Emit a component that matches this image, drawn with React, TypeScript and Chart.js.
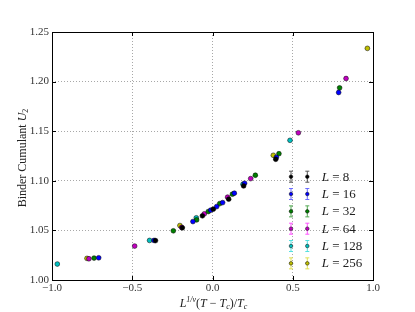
import React, { useEffect, useRef } from "react";
import { Chart, registerables } from "chart.js";

Chart.register(...registerables);

const FONT = '"Liberation Serif", "DejaVu Serif", serif';

// Series data
const xL8 = [-0.355, -0.188, -0.063, 0.005, 0.101, 0.194, 0.394];
const yL8 = [1.0397, 1.0526, 1.0647, 1.0714, 1.0815, 1.0948, 1.1217];
const xL16 = [-0.709, -0.364, -0.122, -0.011, 0.026, 0.063, 0.136, 0.2, 0.398, 0.786];
const yL16 = [1.0224, 1.0399, 1.0589, 1.0704, 1.074, 1.078, 1.0875, 1.0975, 1.1237, 1.189];
const xL32 = [-0.738, -0.244, -0.099, -0.026, 0.045, 0.124, 0.267, 0.414, 0.792];
const yL32 = [1.0221, 1.0496, 1.0606, 1.069, 1.077, 1.0865, 1.1056, 1.1273, 1.1937];
const xL64 = [-0.77, -0.485, -0.192, -0.051, 0.094, 0.238, 0.535, 0.832];
const yL64 = [1.0214, 1.0342, 1.053, 1.0667, 1.0835, 1.1022, 1.1484, 1.2031];
const xL128 = [-0.967, -0.392, -0.101, 0.19, 0.483];
const yL128 = [1.0161, 1.0399, 1.0627, 1.0965, 1.1408];
const xL256 = [-0.782, -0.203, 0.379, 0.965];
const yL256 = [1.0218, 1.0549, 1.1257, 1.2335];

const seriesLabels = ["8", "16", "32", "64", "128", "256"];
const seriesX = [xL8, xL16, xL32, xL64, xL128, xL256];
const seriesY = [yL8, yL16, yL32, yL64, yL128, yL256];
const seriesColors = ["#000000", "#0000ff", "#008000", "#bf00bf", "#00bfbf", "#bfbf00"];
const barColors = ["#555555", "#6b6bff", "#55aa55", "#ff55ff", "#55e0e0", "#e0e055"];

const xTicks = [-1.0, -0.5, 0.0, 0.5, 1.0];
const yTicks = [1.0, 1.05, 1.1, 1.15, 1.2, 1.25];

type Run = { t: string; size: number; italic?: boolean; dy?: number };

function drawRuns(ctx: CanvasRenderingContext2D, runs: Run[], cx: number, cy: number) {
  const fontOf = (r: Run) => `${r.italic ? "italic " : ""}${r.size}px ${FONT}`;
  let total = 0;
  const widths = runs.map((r) => {
    ctx.font = fontOf(r);
    const w = ctx.measureText(r.t).width;
    total += w;
    return w;
  });
  let x = cx - total / 2;
  ctx.textBaseline = "alphabetic";
  ctx.textAlign = "left";
  runs.forEach((r, i) => {
    ctx.font = fontOf(r);
    ctx.fillText(r.t, x, cy + (r.dy || 0));
    x += widths[i];
  });
}

const decorPlugin = {
  id: "decor",
  afterDraw(chart: any) {
    const ctx: CanvasRenderingContext2D = chart.ctx;
    const { left, right, top, bottom } = chart.chartArea;
    const xs = chart.scales.x;
    const ys = chart.scales.y;
    ctx.save();
    // Box
    ctx.strokeStyle = "#000";
    ctx.lineWidth = 1;
    ctx.strokeRect(Math.round(left) + 0.5, Math.round(top) + 0.5, Math.round(right - left), Math.round(bottom - top));
    // Inner ticks
    ctx.lineWidth = 1;
    ctx.beginPath();
    xTicks.forEach((v) => {
      const px = Math.round(xs.getPixelForValue(v)) + 0.5;
      ctx.moveTo(px, bottom);
      ctx.lineTo(px, bottom - 4);
      ctx.moveTo(px, top);
      ctx.lineTo(px, top + 4);
    });
    yTicks.forEach((v) => {
      const py = Math.round(ys.getPixelForValue(v)) + 0.5;
      ctx.moveTo(left, py);
      ctx.lineTo(left + 4, py);
      ctx.moveTo(right, py);
      ctx.lineTo(right - 4, py);
    });
    ctx.stroke();

    // Legend
    const lx1 = 291;
    const lx2 = 307.3;
    const ly0 = 176.7;
    const step = 17.33;
    seriesLabels.forEach((lab, i) => {
      const cy = ly0 + i * step;
      [lx1, lx2].forEach((mx) => {
        ctx.strokeStyle = barColors[i];
        ctx.lineWidth = 1;
        ctx.beginPath();
        ctx.moveTo(mx, cy - 5.5);
        ctx.lineTo(mx, cy + 5.5);
        ctx.moveTo(mx - 2, cy - 5.5);
        ctx.lineTo(mx + 2, cy - 5.5);
        ctx.moveTo(mx - 2, cy + 5.5);
        ctx.lineTo(mx + 2, cy + 5.5);
        ctx.stroke();
        ctx.beginPath();
        ctx.arc(mx, cy, 1.8, 0, Math.PI * 2);
        ctx.fillStyle = seriesColors[i];
        ctx.fill();
        ctx.strokeStyle = "#000";
        ctx.lineWidth = 0.5;
        ctx.stroke();
      });
      ctx.fillStyle = "#222";
      ctx.textBaseline = "middle";
      ctx.textAlign = "left";
      ctx.font = `italic 13px ${FONT}`;
      let tx = 321.7;
      ctx.fillText("L", tx, cy + 0.5);
      tx += ctx.measureText("L").width;
      ctx.font = `13px ${FONT}`;
      ctx.fillText(" = " + lab, tx, cy + 0.5);
    });

    // Axis titles
    ctx.fillStyle = "#222";
    drawRuns(
      ctx,
      [
        { t: "L", size: 12, italic: true },
        { t: "1/ν", size: 8, italic: true, dy: -5 },
        { t: "(", size: 12 },
        { t: "T", size: 12, italic: true },
        { t: " − ", size: 12 },
        { t: "T", size: 12, italic: true },
        { t: "c", size: 8, italic: true, dy: 2 },
        { t: ")/", size: 12 },
        { t: "T", size: 12, italic: true },
        { t: "c", size: 8, italic: true, dy: 2 },
      ],
      213.5,
      307
    );
    ctx.save();
    ctx.translate(26, 158);
    ctx.rotate(-Math.PI / 2);
    drawRuns(
      ctx,
      [
        { t: "Binder Cumulant ", size: 12 },
        { t: "U", size: 12, italic: true },
        { t: "2", size: 8, dy: 2 },
      ],
      0,
      0
    );
    ctx.restore();
    ctx.restore();
  },
};

export default function App() {
  const ref = useRef<HTMLCanvasElement | null>(null);
  useEffect(() => {
    document.body.style.margin = "0";
    if (!ref.current) return;
    const datasets = seriesLabels.map((lab, i) => ({
      label: "L = " + lab,
      data: seriesX[i].map((x, j) => ({ x, y: seriesY[i][j] })),
      backgroundColor: seriesColors[i],
      borderColor: "#000",
      borderWidth: 0.5,
      pointRadius: 2.4,
      showLine: false,
    }));
    const fmt = (v: number, d: number) => (v < 0 ? "−" : "") + Math.abs(v).toFixed(d);
    const chart = new Chart(ref.current, {
      type: "scatter",
      data: { datasets },
      plugins: [decorPlugin],
      options: {
        animation: false,
        responsive: false,
        layout: { padding: { left: 0, top: 32, right: 42, bottom: 0 } },
        plugins: { legend: { display: false }, tooltip: { enabled: false } },
        scales: {
          x: {
            type: "linear",
            min: -1,
            max: 1,
            afterFit: (s: any) => {
              s.height = 32;
            },
            afterBuildTicks: (s: any) => {
              s.ticks = xTicks.map((v) => ({ value: v }));
            },
            ticks: {
              color: "#333",
              font: { family: FONT, size: 11 },
              padding: 2,
              maxRotation: 0,
              callback: (v: any) => fmt(Number(v), 1),
            },
            grid: { color: "#a8a8a8", drawTicks: false, lineWidth: 1 },
            border: { display: false, dash: [1, 2] },
          },
          y: {
            type: "linear",
            min: 1.0,
            max: 1.25,
            afterFit: (s: any) => {
              s.width = 52;
            },
            afterBuildTicks: (s: any) => {
              s.ticks = yTicks.map((v) => ({ value: v }));
            },
            ticks: {
              color: "#333",
              font: { family: FONT, size: 11 },
              padding: 3,
              callback: (v: any) => fmt(Number(v), 2),
            },
            grid: { color: "#a8a8a8", drawTicks: false, lineWidth: 1 },
            border: { display: false, dash: [1, 2] },
          },
        },
      },
    });
    return () => chart.destroy();
  }, []);
  return <canvas ref={ref} width={415} height={312} style={{ display: "block" }} />;
}
